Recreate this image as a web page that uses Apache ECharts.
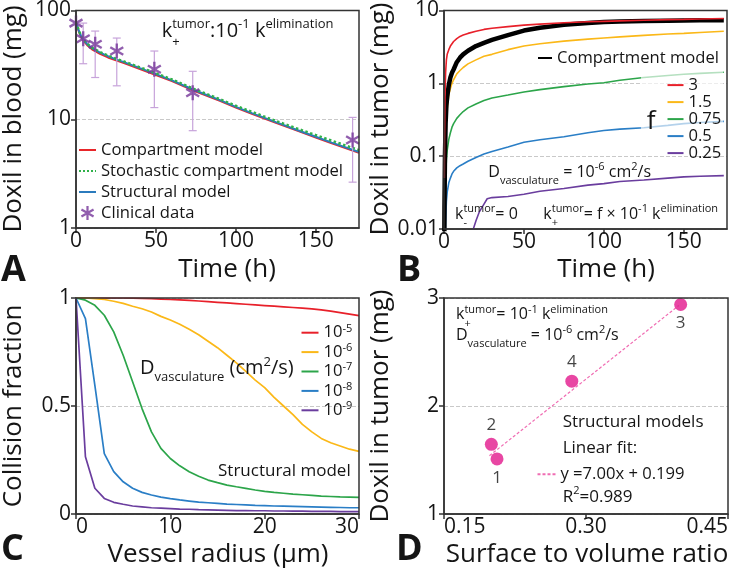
<!DOCTYPE html>
<html><head><meta charset="utf-8">
<script src="https://cdn.jsdelivr.net/npm/echarts@6/dist/echarts.min.js"></script>
<style>html,body{margin:0;padding:0;background:#fff}#c{width:732px;height:570px}</style>
</head><body><div id="c"></div><script>
// ---------- Panel A data ----------
const timeA = [0,1,2,3,5,7,10,15,20,25,30,40,50,60,75,90,100,110,125,140,150,160,177];
const bloodCompartment = [78,69,63,58,52,48,44,40,37,34.8,32.8,29,25.5,22.4,18,14.8,12.8,11.2,9.25,7.7,6.8,6.0,4.92];
const bloodStochastic = [78,70.5,64.5,59.5,53.5,49.5,45.5,41.5,38.5,36,34,30,26.5,23.2,18.7,15.3,13.3,11.7,9.65,8.05,7.15,6.35,5.2];
const bloodStructural = [78,70,64,59,53,49,45,41,38,35.5,33.5,29.5,26,22.8,18.3,15,13,11.4,9.4,7.8,6.9,6.1,5.0];
const clinicalTime = [0,4.5,12,25.5,49,73,173];
const clinicalDose = [76.6,55,48.9,42.4,28.8,17.5,6.44];
const clinicalHigh = [null,76.6,64.7,55.8,42.4,27.6,10.4];
const clinicalLow = [null,32.4,24.2,20.3,12.8,7.85,2.64];
const timeTicks = [0,50,100,150];

// ---------- Panel B data ----------
const timeB = [0.2,0.3,0.6,1,1.5,2,3,4,5,6,8,10,12,15,20,25,30,40,50,60,75,90,100,110,125,140,150,160,175];
const tumorF3 = [0.05,0.15,0.6,1.4,2.1,2.5,2.9,3.25,3.5,3.75,4.1,4.4,4.6,4.85,5.2,5.5,5.7,6.0,6.3,6.5,6.8,7.0,7.1,7.2,7.35,7.5,7.55,7.65,7.75];
const tumorCompartment = [0.006,0.02,0.1,0.28,0.5,0.65,0.95,1.2,1.4,1.55,1.95,2.25,2.5,2.8,3.25,3.6,3.95,4.6,5.3,5.8,6.35,6.75,6.95,7.05,7.15,7.25,7.3,7.33,7.35];
const tumorF15 = [0.004,0.01,0.06,0.17,0.33,0.45,0.7,0.85,1.0,1.12,1.35,1.5,1.65,1.85,2.1,2.35,2.5,2.9,3.25,3.5,3.8,4.05,4.2,4.35,4.55,4.75,4.85,5.0,5.2];
const tumorF075 = [0.003,0.005,0.02,0.05,0.09,0.12,0.17,0.21,0.25,0.28,0.33,0.37,0.41,0.46,0.52,0.58,0.63,0.69,0.76,0.82,0.9,0.98,1.02,1.1,1.2,1.28,1.33,1.37,1.42];
const tumorF05 = [0.002,0.003,0.006,0.012,0.024,0.032,0.043,0.05,0.057,0.062,0.069,0.074,0.078,0.085,0.096,0.107,0.116,0.134,0.155,0.168,0.185,0.21,0.225,0.235,0.245,0.265,0.28,0.29,0.3];
const timePurple = [18,20,22,25,27,30,40,50,60,75,90,100,110,125,140,150,160,175];
const tumorF025 = [0.0095,0.013,0.017,0.022,0.026,0.027,0.028,0.030,0.033,0.036,0.040,0.042,0.045,0.047,0.050,0.052,0.053,0.054];

// ---------- Panel C data ----------
const radius = [0,1,2,3,4,5,6,7,8,9,10,11,12,13,14,15,16,17,18,19,20,21,22,23,24,25,26,27,28,29,30];
const collision1e5 = [1,1,1,1,1,1,0.999,0.998,0.997,0.995,0.993,0.991,0.989,0.986,0.983,0.98,0.977,0.974,0.971,0.968,0.965,0.962,0.959,0.956,0.953,0.95,0.945,0.939,0.932,0.925,0.918];
const collision1e6 = [1,1,0.997,0.993,0.985,0.975,0.962,0.95,0.935,0.915,0.898,0.878,0.855,0.83,0.8,0.77,0.735,0.7,0.66,0.62,0.585,0.54,0.5,0.46,0.415,0.38,0.35,0.33,0.315,0.3,0.29];
const collision1e7 = [1,0.99,0.966,0.92,0.843,0.735,0.612,0.488,0.38,0.304,0.257,0.223,0.196,0.175,0.157,0.145,0.134,0.126,0.119,0.111,0.105,0.1,0.096,0.092,0.089,0.086,0.083,0.081,0.079,0.078,0.077];
const collision1e8 = [1,0.905,0.596,0.28,0.196,0.149,0.119,0.1,0.088,0.078,0.071,0.065,0.06,0.055,0.052,0.049,0.046,0.044,0.042,0.04,0.0385,0.037,0.036,0.035,0.034,0.033,0.032,0.031,0.03,0.029,0.029];
const collision1e9 = [1,0.265,0.119,0.072,0.054,0.045,0.037,0.033,0.029,0.027,0.025,0.023,0.022,0.02,0.019,0.018,0.017,0.016,0.016,0.015,0.015,0.014,0.014,0.013,0.013,0.012,0.012,0.012,0.011,0.011,0.011];
const diffusionExponents = ['-5','-6','-7','-8','-9'];

// ---------- Panel D data ----------
const modelIds = ['1','2','3','4'];
const surfaceToVolume = [0.206,0.200,0.400,0.285];
const tumorDoxil = [1.51,1.645,2.94,2.23];
const fitX = [0.198,0.398];
const fitY = [1.54,2.93];
const labelSide = ['bottom','top','bottom','top'];

// ---------- helpers ----------
const FF = '"Open Sans", sans-serif';
const INK = '#151515';
const pairs = (xs, ys) => xs.map((x, i) => [x, ys[i]]);
const mctx = document.createElement('canvas').getContext('2d');
function tw(t, size) { mctx.font = size + 'px "Open Sans"'; return mctx.measureText(t).width; }
function textEl(x, y, text, size, opt) {
  opt = opt || {};
  return { type: 'text', x: x, y: y, rotation: opt.rot || 0, z: 100, silent: true,
    style: { text: text, font: (opt.weight || 'normal') + ' ' + size + 'px ' + FF, fill: INK,
      align: opt.align || 'left', textAlign: opt.align || 'left',
      verticalAlign: 'middle', textVerticalAlign: 'middle' } };
}
// parts: [text, size, dy, stack]
function richLine(x, y, parts) {
  const out = []; let cx = x;
  parts.forEach(p => {
    out.push(textEl(cx, y + (p[2] || 0), p[0], p[1]));
    if (!p[3]) cx += tw(p[0], p[1]);
  });
  return out;
}
const lineItem = n => ({ name: n, itemStyle: { opacity: 0 } });
const axisLineStyle = { color: '#333', width: 1.5 };
function xAx(grid, o) {
  return Object.assign({ gridIndex: grid, type: 'value',
    axisLine: { show: true, onZero: false, lineStyle: axisLineStyle },
    axisTick: { show: true, inside: false, length: 5, lineStyle: axisLineStyle },
    axisLabel: { fontFamily: FF, fontSize: 21, color: INK, margin: 3 },
    splitLine: { show: false } }, o);
}
function yAx(grid, o) {
  return Object.assign({ gridIndex: grid,
    axisLine: { show: true, onZero: false, lineStyle: axisLineStyle },
    axisTick: { show: true, inside: false, length: 5, lineStyle: axisLineStyle },
    axisLabel: { fontFamily: FF, fontSize: 21, color: INK, margin: 5 },
    splitLine: { show: true, lineStyle: { type: 'dashed', color: '#c9c9c9', width: 1 } } }, o);
}
const legendText = (lh) => ({ fontFamily: FF, fontSize: 16.6, color: INK, lineHeight: lh });
const STAR = 'path://M42,0L58,0L58,100L42,100Z M2.7,31.9L10.7,18.1L97.3,68.1L89.3,81.9Z M10.7,81.9L2.7,68.1L89.3,18.1L97.3,31.9Z';

const gridStyle = { show: true, borderColor: '#333', borderWidth: 1.5, z: 10, backgroundColor: 'transparent' };

const chart = echarts.init(document.getElementById('c'));
const option = {
  animation: false,
  backgroundColor: '#fff',
  grid: [
    Object.assign({ left: 76, top: 10, width: 283, height: 218 }, gridStyle),
    Object.assign({ left: 444, top: 10, width: 283, height: 219 }, gridStyle),
    Object.assign({ left: 76, top: 298, width: 283, height: 216 }, gridStyle),
    Object.assign({ left: 444, top: 298, width: 284, height: 216 }, gridStyle)
  ],
  xAxis: [
    xAx(0, { min: 0, max: 177, interval: 50,
      axisTick: { show: true, length: 5, lineStyle: axisLineStyle, customValues: timeTicks },
      axisLabel: { fontFamily: FF, fontSize: 21, color: INK, margin: 3, customValues: timeTicks,
        formatter: v => (v % 50 === 0 ? String(v) : '') } }),
    xAx(1, { min: 0, max: 177, interval: 50,
      axisTick: { show: true, length: 5, lineStyle: axisLineStyle, customValues: timeTicks },
      axisLabel: { fontFamily: FF, fontSize: 21, color: INK, margin: 3, customValues: timeTicks,
        formatter: v => (v % 50 === 0 ? String(v) : '') } }),
    xAx(2, { min: 0, max: 30, interval: 10,
      axisLabel: { fontFamily: FF, fontSize: 21, color: INK, margin: 3, alignMinLabel: 'left', alignMaxLabel: 'right' } }),
    xAx(3, { min: 0.15, max: 0.45, interval: 0.15,
      axisLabel: { fontFamily: FF, fontSize: 21, color: INK, margin: 3, alignMinLabel: 'left', alignMaxLabel: 'right',
        formatter: v => v.toFixed(2) } })
  ],
  yAxis: [
    yAx(0, { type: 'log', logBase: 10, min: 1, max: 100 }),
    yAx(1, { type: 'log', logBase: 10, min: 0.01, max: 10 }),
    yAx(2, { type: 'value', min: 0, max: 1, interval: 0.5 }),
    yAx(3, { type: 'value', min: 1, max: 3, interval: 1 })
  ],
  legend: [
    { data: [lineItem('Compartment model'), lineItem('Stochastic compartment model'), lineItem('Structural model'), 'Clinical data'],
      orient: 'vertical', left: 78, top: 139.5, padding: 0, itemGap: 0, itemWidth: 17, itemHeight: 14,
      selectedMode: false, textStyle: legendText(21) },
    { data: [lineItem('Compartment model (B)')], orient: 'vertical', left: 537, top: 48, padding: 0, itemGap: 0,
      itemWidth: 14, itemHeight: 10, selectedMode: false, textStyle: legendText(20),
      formatter: () => 'Compartment model' },
    { data: ['3', '1.5', '0.75', '0.5', '0.25'].map(lineItem), orient: 'vertical', left: 666.5, top: 76.6, padding: 0, itemGap: 0,
      itemWidth: 16, itemHeight: 10, selectedMode: false, textStyle: legendText(15.4) },
    { data: diffusionExponents.map(lineItem), orient: 'vertical', left: 300.5, top: 323, padding: 0, itemGap: 0,
      itemWidth: 17, itemHeight: 10, selectedMode: false,
      formatter: n => '{n|10}{s|' + n + '}',
      textStyle: { fontFamily: FF, fontSize: 16.6, color: INK, lineHeight: 19.4,
        rich: { n: { fontFamily: FF, fontSize: 16.6, color: INK, lineHeight: 19.4 },
                s: { fontFamily: FF, fontSize: 11, color: INK, verticalAlign: 'top', lineHeight: 11 } } } },
    { data: [lineItem('y =7.00x + 0.199')], orient: 'vertical', left: 536.5, top: 464.3, padding: 0, itemGap: 0,
      itemWidth: 18, itemHeight: 10, selectedMode: false, textStyle: legendText(20) }
  ],
  series: [
    // Panel A
    { name: 'Compartment model', type: 'line', xAxisIndex: 0, yAxisIndex: 0, data: pairs(timeA, bloodCompartment),
      symbol: 'none', lineStyle: { color: '#e8262a', width: 2 }, itemStyle: { color: '#e8262a' }, z: 2 },
    { name: 'Structural model', type: 'line', xAxisIndex: 0, yAxisIndex: 0, data: pairs(timeA, bloodStructural),
      symbol: 'none', lineStyle: { color: '#2b7bbd', width: 2 }, itemStyle: { color: '#2b7bbd' }, z: 3 },
    { name: 'Stochastic compartment model', type: 'line', xAxisIndex: 0, yAxisIndex: 0, data: pairs(timeA, bloodStochastic),
      symbol: 'none', lineStyle: { color: '#2fb14a', width: 2.5, type: 'dotted' }, itemStyle: { color: '#2fb14a' }, z: 4 },
    { name: 'errorbars', type: 'custom', xAxisIndex: 0, yAxisIndex: 0, silent: true, z: 5,
      data: clinicalTime.map((t, i) => [t, clinicalLow[i], clinicalHigh[i]]).filter(d => d[1] != null),
      encode: { x: 0, y: [1, 2] },
      renderItem: function (params, api) {
        const t = api.value(0);
        const lo = api.coord([t, api.value(1)]);
        const hi = api.coord([t, api.value(2)]);
        const w = 4, st = { stroke: '#c7a3da', lineWidth: 1.2 };
        return { type: 'group', children: [
          { type: 'line', shape: { x1: lo[0], y1: lo[1], x2: hi[0], y2: hi[1] }, style: st },
          { type: 'line', shape: { x1: lo[0] - w, y1: lo[1], x2: lo[0] + w, y2: lo[1] }, style: st },
          { type: 'line', shape: { x1: hi[0] - w, y1: hi[1], x2: hi[0] + w, y2: hi[1] }, style: st }
        ] };
      } },
    { name: 'Clinical data', type: 'scatter', xAxisIndex: 0, yAxisIndex: 0, data: pairs(clinicalTime, clinicalDose),
      symbol: STAR, symbolSize: 15, symbolKeepAspect: true, itemStyle: { color: '#76369a' }, z: 6 },
    // Panel B
    { name: '0.25', type: 'line', xAxisIndex: 1, yAxisIndex: 1, data: pairs(timePurple, tumorF025),
      symbol: 'none', lineStyle: { color: '#6a3d9e', width: 1.6 }, itemStyle: { color: '#6a3d9e' }, z: 2 },
    { name: '0.5', type: 'line', xAxisIndex: 1, yAxisIndex: 1, data: pairs(timeB, tumorF05),
      symbol: 'none', lineStyle: { color: '#2a7ec6', width: 1.6 }, itemStyle: { color: '#2a7ec6' }, z: 2 },
    { name: '0.75', type: 'line', xAxisIndex: 1, yAxisIndex: 1, data: pairs(timeB, tumorF075),
      symbol: 'none', lineStyle: { color: '#2ca54a', width: 1.6 }, itemStyle: { color: '#2ca54a' }, z: 2 },
    { name: '1.5', type: 'line', xAxisIndex: 1, yAxisIndex: 1, data: pairs(timeB, tumorF15),
      symbol: 'none', lineStyle: { color: '#fbb818', width: 1.6 }, itemStyle: { color: '#fbb818' }, z: 2 },
    { name: 'Compartment model (B)', type: 'line', xAxisIndex: 1, yAxisIndex: 1, data: pairs(timeB, tumorCompartment),
      symbol: 'none', lineStyle: { color: '#000', width: 4.5 }, itemStyle: { color: '#000' }, z: 3 },
    { name: '3', type: 'line', xAxisIndex: 1, yAxisIndex: 1, data: pairs(timeB, tumorF3),
      symbol: 'none', lineStyle: { color: '#e8202a', width: 1.6 }, itemStyle: { color: '#e8202a' }, z: 4 },
    // Panel C
    ...[collision1e5, collision1e6, collision1e7, collision1e8, collision1e9].map((vals, k) => ({
      name: diffusionExponents[k], type: 'line', xAxisIndex: 2, yAxisIndex: 2, data: pairs(radius, vals),
      symbol: 'none', lineStyle: { color: ['#e8202a', '#fbb818', '#2ca54a', '#2a7ec6', '#6a3d9e'][k], width: 1.7 },
      itemStyle: { color: ['#e8202a', '#fbb818', '#2ca54a', '#2a7ec6', '#6a3d9e'][k] }, z: 2 })),
    // Panel D
    { name: 'y =7.00x + 0.199', type: 'line', xAxisIndex: 3, yAxisIndex: 3, data: pairs(fitX, fitY),
      symbol: 'none', lineStyle: { color: '#f06db3', width: 1.2, type: [3, 2] }, itemStyle: { color: '#f06db3' }, z: 2 },
    { name: 'Structural models', type: 'scatter', xAxisIndex: 3, yAxisIndex: 3,
      data: surfaceToVolume.map((x, i) => ({ value: [x, tumorDoxil[i]],
        label: { show: true, formatter: modelIds[i], position: labelSide[i], distance: 4,
          fontFamily: FF, fontSize: 17, color: INK } })),
      symbolSize: 13, itemStyle: { color: '#e2188c' }, z: 3 }
  ],
  graphic: [
    // translucent legend box in panel B
    { type: 'rect', shape: { x: 641, y: 66, width: 82, height: 84 }, style: { fill: 'rgba(255,255,255,0.65)' }, z: 3, silent: true },
    // axis titles
    textEl(14, 119, 'Doxil in blood (mg)', 26, { align: 'center', rot: Math.PI / 2 }),
    textEl(381, 119, 'Doxil in tumor (mg)', 26, { align: 'center', rot: Math.PI / 2 }),
    textEl(14, 406, 'Collision fraction', 26, { align: 'center', rot: Math.PI / 2 }),
    textEl(381, 406, 'Doxil in tumor (mg)', 26, { align: 'center', rot: Math.PI / 2 }),
    textEl(227, 270, 'Time (h)', 26, { align: 'center' }),
    textEl(606, 270, 'Time (h)', 26, { align: 'center' }),
    textEl(218, 555, 'Vessel radius (\u00b5m)', 26, { align: 'center' }),
    textEl(587, 555, 'Surface to volume ratio', 26, { align: 'center' }),
    // panel letters
    textEl(1, 271, 'A', 36, { weight: 'bold' }),
    textEl(397, 271, 'B', 36, { weight: 'bold' }),
    textEl(1, 550, 'C', 36, { weight: 'bold' }),
    textEl(396, 550, 'D', 36, { weight: 'bold' }),
    // panel A annotation
    ...richLine(161.7, 31.5, [['k', 20], ['+', 13, 11, true], ['tumor', 13, -7], [':10', 20], ['-1', 13, -7], [' k', 20], ['elimination', 13, -7]]),
    // panel B annotations
    textEl(651, 122, 'f', 26, { align: 'center' }),
    ...richLine(488.3, 172, [['D', 16], ['vasculature', 11, 9], [' = 10', 16], ['-6', 11, -5], [' cm', 16], ['2', 11, -5], ['/s', 16]]),
    ...richLine(455, 214, [['k', 16], ['-', 11, 9, true], ['tumor', 11, -5], ['= 0', 16]]),
    ...richLine(543.3, 214, [['k', 16], ['+', 11, 9, true], ['tumor', 11, -5], ['= f \u00d7 10', 16], ['-1', 11, -5], [' k', 16], ['elimination', 11, -5]]),
    // panel C annotations
    ...richLine(140, 368.3, [['D', 20], ['vasculature', 13, 9], [' (cm', 20], ['2', 13, -6], ['/s)', 20]]),
    textEl(218, 471, 'Structural model', 17),
    // panel D annotations
    ...richLine(456, 314.5, [['k', 16], ['+', 11, 9, true], ['tumor', 11, -5], ['= 10', 16], ['-1', 11, -5], [' k', 16], ['elimination', 11, -5]]),
    ...richLine(456, 335, [['D', 16], ['vasculature', 11, 9], [' = 10', 16], ['-6', 11, -5], [' cm', 16], ['2', 11, -5], ['/s', 16]]),
    textEl(562.7, 421.7, 'Structural models', 17),
    textEl(562.7, 447.7, 'Linear fit:', 17),
    ...richLine(562.7, 496.7, [['R', 17], ['2', 11, -6], ['=0.989', 17]])
  ]
};
chart.setOption(option);
</script></body></html>
